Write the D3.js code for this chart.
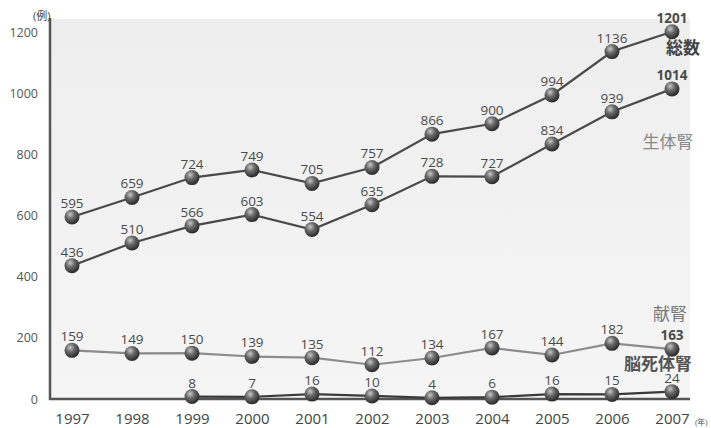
<!DOCTYPE html>
<html>
<head>
<meta charset="utf-8">
<script src="https://cdn.jsdelivr.net/npm/d3@7"></script>
<style>
  body { margin: 0; background: #fff; }
  svg { display: block; }
</style>
</head>
<body>
<svg id="chart" width="711" height="428"></svg>
<script>
// Kidney transplant cases per year
const years = ["1997","1998","1999","2000","2001","2002","2003","2004","2005","2006","2007"];
const totalCases = [595, 659, 724, 749, 705, 757, 866, 900, 994, 1136, 1201];
const livingDonor = [436, 510, 566, 603, 554, 635, 728, 727, 834, 939, 1014];
const deceasedDonor = [159, 149, 150, 139, 135, 112, 134, 167, 144, 182, 163];
const brainDeath = [null, null, 8, 7, 16, 10, 4, 6, 16, 15, 24];
const yTicks = [0, 200, 400, 600, 800, 1000, 1200];

const svg = d3.select("#chart");
const font = "'Open Sans', 'Noto Sans CJK JP', sans-serif";

const x = d3.scalePoint().domain(years).range([72, 672]);
const y = d3.scaleLinear().domain([0, 1200]).range([399, 32]);

// shaded plot panel
const defs = svg.append("defs");
const bg = defs.append("linearGradient").attr("id", "panel").attr("x1", 0).attr("y1", 0).attr("x2", 0).attr("y2", 1);
bg.append("stop").attr("offset", "0%").attr("stop-color", "#eeeeee");
bg.append("stop").attr("offset", "100%").attr("stop-color", "#f5f5f5");
svg.append("rect").attr("x", 50).attr("y", 19).attr("width", 640).attr("height", 380).attr("fill", "url(#panel)");

// sphere markers
const ball = defs.append("radialGradient").attr("id", "ball").attr("cx", "38%").attr("cy", "32%").attr("r", "65%");
ball.append("stop").attr("offset", "0%").attr("stop-color", "#c8c8c8");
ball.append("stop").attr("offset", "45%").attr("stop-color", "#6a6a6a");
ball.append("stop").attr("offset", "100%").attr("stop-color", "#2e2e2e");

// y axis
const yAxis = d3.axisLeft(y).tickValues(yTicks).tickFormat(d3.format("d")).tickSize(0).tickPadding(12);
const gy = svg.append("g").attr("transform", "translate(50,0)").call(yAxis);
gy.select(".domain").remove();
gy.selectAll("text").attr("font-family", font).attr("font-size", 12.5).attr("fill", "#555");
svg.append("line").attr("x1", 50).attr("x2", 50).attr("y1", 18).attr("y2", 400)
  .attr("stroke", "#555").attr("stroke-width", 2.5);

// x axis
const xAxis = d3.axisBottom(x).tickSize(0).tickPadding(14);
const gx = svg.append("g").attr("transform", "translate(0,399)").call(xAxis);
gx.select(".domain").remove();
gx.selectAll("text").attr("font-family", font).attr("font-size", 15).attr("fill", "#444");
svg.append("line").attr("x1", 49).attr("x2", 690).attr("y1", 399).attr("y2", 399)
  .attr("stroke", "#555").attr("stroke-width", 2.5);

// unit labels
svg.append("text").attr("x", 33).attr("y", 20).attr("font-family", font).attr("font-size", 11)
  .attr("fill", "#444").text("(例)");
svg.append("text").attr("x", 695).attr("y", 425).attr("font-family", font).attr("font-size", 8)
  .attr("fill", "#555").text("(年)");

const series = [
  { name: "総数", values: totalCases, stroke: "#4a4a4a", nameColor: "#444", nx: 683, ny: 54, nameWeight: "bold" },
  { name: "生体腎", values: livingDonor, stroke: "#4a4a4a", nameColor: "#8a8a8a", nx: 668, ny: 148, nameWeight: "normal" },
  { name: "献腎", values: deceasedDonor, stroke: "#8c8c8c", nameColor: "#7a7a7a", nx: 670, ny: 320, nameWeight: "normal" },
  { name: "脳死体腎", values: brainDeath, stroke: "#3a3a3a", nameColor: "#555", nx: 658, ny: 370, nameWeight: "bold" }
];

const line = d3.line().x(d => x(d.year)).y(d => y(d.v));

series.forEach(s => {
  const pts = years.map((yr, i) => ({ year: yr, v: s.values[i] })).filter(d => d.v != null);
  svg.append("path").datum(pts).attr("d", line).attr("fill", "none")
    .attr("stroke", s.stroke).attr("stroke-width", 2.2);
});

series.forEach(s => {
  const pts = years.map((yr, i) => ({ year: yr, v: s.values[i], last: i === years.length - 1 })).filter(d => d.v != null);
  const g = svg.append("g");
  g.selectAll("circle").data(pts).join("circle")
    .attr("cx", d => x(d.year)).attr("cy", d => y(d.v)).attr("r", 7.5)
    .attr("fill", "url(#ball)");
  g.selectAll("text").data(pts).join("text")
    .attr("x", d => x(d.year)).attr("y", d => y(d.v) - 9)
    .attr("text-anchor", "middle")
    .attr("font-family", font).attr("font-size", 13.5)
    .attr("font-weight", d => d.last && s.values !== brainDeath ? "bold" : "normal")
    .attr("fill", "#4a4a4a")
    .text(d => d.v);
});

// series names
series.forEach(s => {
  svg.append("text").attr("x", s.nx).attr("y", s.ny).attr("text-anchor", "middle")
    .attr("font-family", "'Noto Sans CJK JP', sans-serif").attr("font-size", 17)
    .attr("font-weight", s.nameWeight).attr("fill", s.nameColor).text(s.name);
});
</script>
</body>
</html>
